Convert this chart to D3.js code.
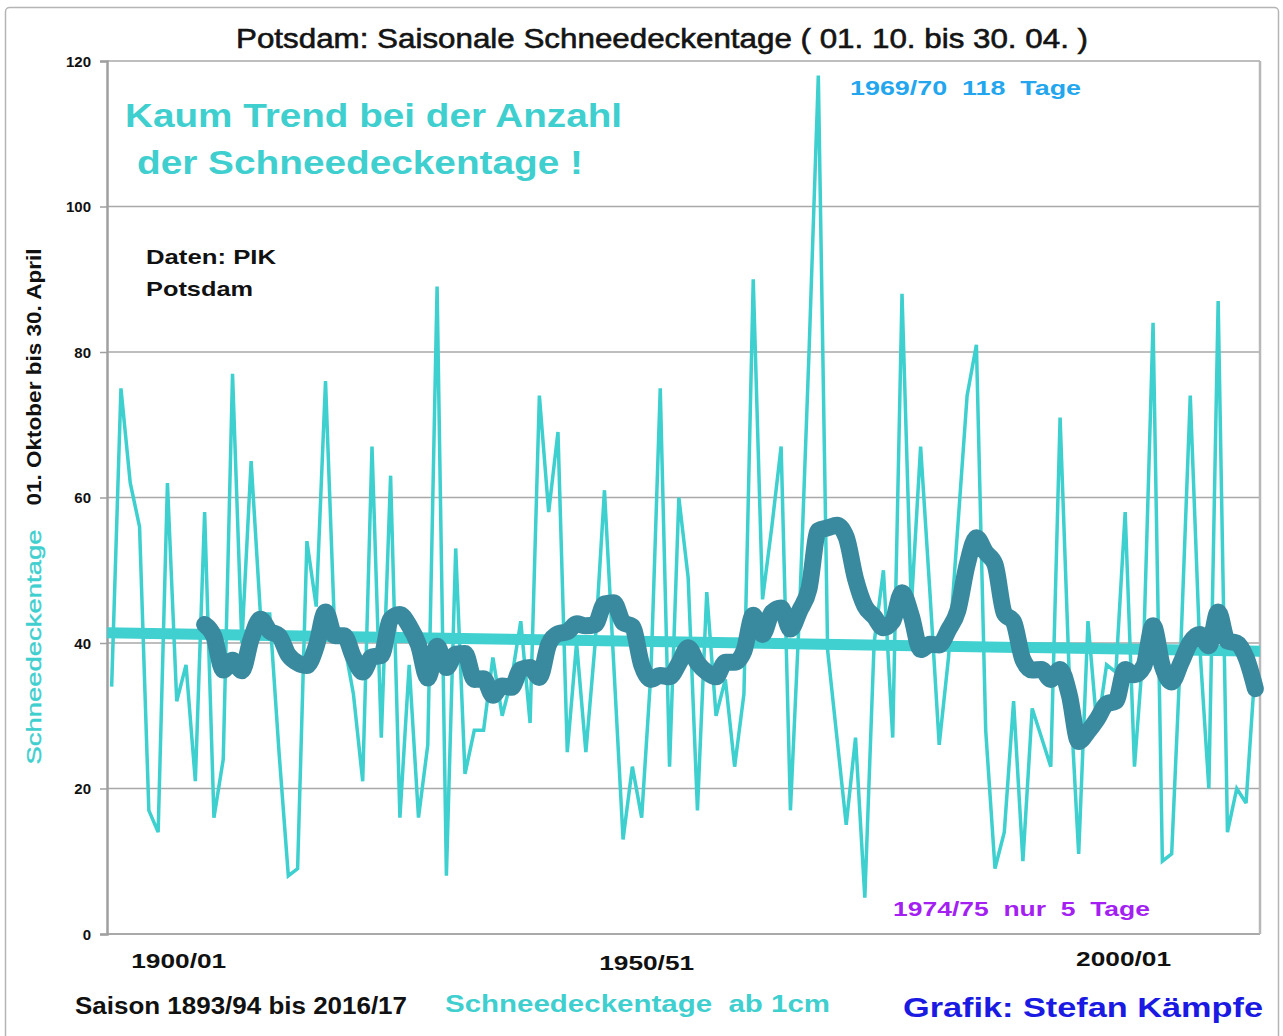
<!DOCTYPE html>
<html>
<head>
<meta charset="utf-8">
<script src="https://cdn.jsdelivr.net/npm/d3@7"></script>
<style>
  html, body { margin: 0; padding: 0; background: #ffffff; }
  svg { display: block; }
  text { font-family: "Liberation Sans", Arial, sans-serif; white-space: pre; }
</style>
</head>
<body>
<script>
// ---------- DATA ----------
const firstSeasonStart = 1893;
const lastSeasonStart = 2016;
const seasons = d3.range(firstSeasonStart, lastSeasonStart + 1)
  .map(y => `${y}/${String((y + 1) % 100).padStart(2, "0")}`);

// snow-cover days per season (01.10.–30.04.), Potsdam, 1893/94 … 2016/17
const snowDays = [
  34, 75, 62, 56, 17, 14, 62, 32, 37, 21,
  58, 16, 24, 77, 40, 65, 44, 44, 25, 8,
  9, 54, 45, 76, 41, 40, 33, 21, 67, 27,
  63, 16, 37, 16, 26, 89, 8, 53, 22, 28,
  28, 38, 30, 35, 43, 29, 74, 58, 69, 25,
  40, 25, 40, 61, 37, 13, 23, 16, 36, 75,
  23, 60, 49, 17, 47, 30, 35, 23, 33, 90,
  46, 56, 67, 17, 45, 80, 118, 39, 27, 15,
  27, 5, 40, 50, 27, 88, 45, 67, 47, 26,
  38, 56, 74, 81, 28, 9, 14, 32, 10, 31,
  27, 23, 71, 35, 11, 43, 28, 37, 36, 58,
  23, 40, 84, 10, 11, 40, 74, 40, 20, 87,
  14, 20, 18, 37
];

const movingWindow = 11;              // trailing moving average (Excel style)
const yTicks = [0, 20, 40, 60, 80, 100, 120];
const xTickSeasons = ["1900/01", "1950/51", "2000/01"];

// ---------- LAYOUT ----------
const W = 1283, H = 1036;
const plot = { left: 107, right: 1260, top: 61, bottom: 934 };
const xLabelShift = [2, 5, 17];       // label nudges (px) as in the original
const xLabelBase = [968, 970, 966];

const C = {
  thin: "#3ecfcf",
  trend: "#3fd0cf",
  avg: "#3a8a9f",
  grid: "#a9a9a9",
  turq: "#3fcfcf",
  blue: "#23a6ee",
  purple: "#a31ff2",
  author: "#1a1ae2"
};

// ---------- SCALES ----------
const n = snowDays.length;
const x = d3.scaleLinear().domain([-0.5, n - 0.5]).range([plot.left, plot.right]);
const y = d3.scaleLinear().domain([0, 120]).range([plot.bottom, plot.top]);

const svg = d3.select("body").append("svg")
  .attr("width", W).attr("height", H);

// outer frame
svg.append("rect")
  .attr("x", 5.5).attr("y", 7.5).attr("width", W - 10).attr("height", H + 20)
  .attr("rx", 4).attr("fill", "none").attr("stroke", "#b5b5b5").attr("stroke-width", 1.5);

// gridlines
svg.append("g").selectAll("line")
  .data(yTicks.filter(t => t > 0))
  .join("line")
  .attr("x1", plot.left).attr("x2", plot.right)
  .attr("y1", d => y(d)).attr("y2", d => y(d))
  .attr("stroke", C.grid).attr("stroke-width", 1.5);

// bottom and right border
svg.append("line")
  .attr("x1", plot.left).attr("x2", plot.right)
  .attr("y1", y(0)).attr("y2", y(0))
  .attr("stroke", C.grid).attr("stroke-width", 2);
svg.append("line")
  .attr("x1", plot.right).attr("x2", plot.right)
  .attr("y1", y(120)).attr("y2", y(0))
  .attr("stroke", "#b8b8b8").attr("stroke-width", 2.5);

// y axis
const yAxis = svg.append("g")
  .attr("transform", `translate(${plot.left},0)`)
  .call(d3.axisLeft(y).tickValues(yTicks).tickSize(7).tickPadding(9).tickFormat(d3.format("d")));
yAxis.select(".domain").attr("stroke", "#a0a0a0").attr("stroke-width", 2.5);
yAxis.selectAll(".tick line").attr("stroke", "#a0a0a0").attr("stroke-width", 1.5);
yAxis.selectAll(".tick text")
  .attr("fill", "#111").attr("font-size", 15).attr("font-weight", "bold")
  .attr("font-family", "'Liberation Sans Narrow', 'Liberation Sans', Arial, sans-serif")
  .attr("dy", "0.36em");

// raw series
const line = d3.line().x((d, i) => x(i)).y(d => y(d));
svg.append("path")
  .datum(snowDays)
  .attr("d", line)
  .attr("fill", "none")
  .attr("stroke", C.thin)
  .attr("stroke-width", 3.5)
  .attr("stroke-linejoin", "miter")
  .attr("stroke-miterlimit", 3);

// linear trend (least squares) across the whole plot width
const idx = d3.range(n);
const mx = d3.mean(idx), my = d3.mean(snowDays);
const slope = d3.sum(idx, i => (i - mx) * (snowDays[i] - my)) / d3.sum(idx, i => (i - mx) ** 2);
const icpt = my - slope * mx;
const trendPts = [x.domain()[0], x.domain()[1]].map(i => [i, icpt + slope * i]);
svg.append("path")
  .datum(trendPts)
  .attr("d", d3.line().x(d => x(d[0])).y(d => y(d[1])))
  .attr("fill", "none")
  .attr("stroke", C.trend)
  .attr("stroke-width", 11);

// trailing moving average
const avg = [];
for (let i = movingWindow - 1; i < n; i++) {
  avg.push([i, d3.mean(snowDays.slice(i - movingWindow + 1, i + 1))]);
}
svg.append("path")
  .datum(avg)
  .attr("d", d3.line().curve(d3.curveMonotoneX).x(d => x(d[0])).y(d => y(d[1])))
  .attr("fill", "none")
  .attr("stroke", C.avg)
  .attr("stroke-width", 17)
  .attr("stroke-linejoin", "round")
  .attr("stroke-linecap", "round");

// ---------- TEXT ----------
function txt(str, px, py, o) {
  const t = svg.append("text")
    .attr("x", px).attr("y", py)
    .attr("font-size", o.size)
    .attr("font-weight", o.weight || "bold")
    .attr("fill", o.fill || "#111")
    .attr("text-anchor", o.anchor || "start")
    .text(str);
  if (o.family) t.attr("font-family", o.family);
  if (o.len) t.attr("textLength", o.len).attr("lengthAdjust", "spacingAndGlyphs");
  if (o.transform) t.attr("transform", o.transform);
  if (o.stroke) t.attr("stroke", o.fill).attr("stroke-width", o.stroke);
  return t;
}
const narrow = "'Liberation Sans Narrow', 'Liberation Sans', Arial, sans-serif";

txt("Potsdam: Saisonale Schneedeckentage ( 01. 10. bis 30. 04. )", 236, 48,
  { size: 28, weight: "normal", fill: "#141414", len: 852, stroke: 0.6 });

txt("Kaum Trend bei der Anzahl", 125, 127, { size: 34, fill: C.turq, len: 497 });
txt("der Schneedeckentage !", 137, 174, { size: 34, fill: C.turq, len: 446 });

txt("Daten: PIK", 146, 264, { size: 21, fill: "#111", len: 130 });
txt("Potsdam", 146, 296, { size: 21, fill: "#111", len: 107 });

// annotations tied to their seasons
const maxI = snowDays.indexOf(d3.max(snowDays));
const minI = snowDays.indexOf(d3.min(snowDays));
txt(`${seasons[maxI]}  ${snowDays[maxI]}  Tage`, 850, 95, { size: 21, fill: C.blue, len: 231 });
txt(`${seasons[minI]}  nur  ${snowDays[minI]}  Tage`, 893, 916, { size: 21, fill: C.purple, len: 257 });

// x labels
xTickSeasons.forEach((s, k) => {
  const i = seasons.indexOf(s);
  txt(s, x(i) + xLabelShift[k], xLabelBase[k], { size: 21, anchor: "middle", len: 95, family: narrow });
});

// y axis title (rotated)
txt("Schneedeckentage", 0, 0, {
  size: 21, weight: "normal", fill: C.turq, anchor: "middle", len: 235, stroke: 0.4,
  transform: "translate(41,647) rotate(-90)"
});
txt("01. Oktober bis 30. April", 0, 0, {
  size: 20, fill: "#111", anchor: "middle", len: 257,
  transform: "translate(41,377) rotate(-90)"
});

// footer
txt(`Saison ${seasons[0]} bis ${seasons[n - 1]}`, 75, 1014, { size: 23, fill: "#111", len: 332, family: narrow });
txt("Schneedeckentage  ab 1cm", 445, 1012, { size: 23, fill: C.turq, len: 385 });
txt("Grafik: Stefan Kämpfe", 903, 1017, { size: 28, fill: C.author, len: 360 });
</script>
</body>
</html>
